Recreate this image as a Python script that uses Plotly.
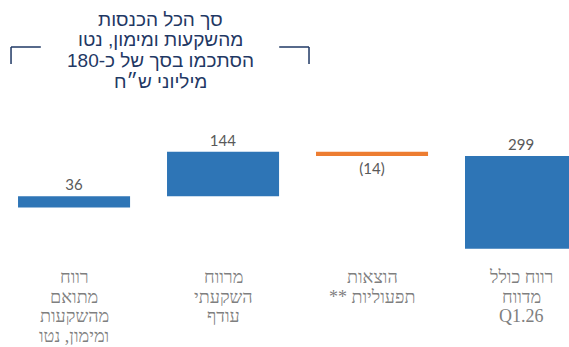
import plotly.graph_objects as go

categories = [["רווח", "מתואם", "מהשקעות", "ומימון, נטו"],
              ["מרווח", "השקעתי", "עודף"],
              ["הוצאות", "** תפעוליות"],
              ["רווח כולל", "מדווח", "Q1.26"]]
values = [36, 144, -14, 299]
value_labels = ["36", "144", "(14)", "299"]
start_level = 133          # hidden starting level of the bridge
is_total = [False, False, False, True]
colors = ["#2E75B6", "#2E75B6", "#ED7D31", "#2E75B6"]
bracket_lines = ["סך הכל הכנסות", "מהשקעות ומימון, נטו", "הסתכמו בסך של כ-180", "מיליוני ש״ח"]

# layout geometry
H = 347
Y0, Y1 = -317, 802
def py(pix):
    """convert pixel row to y data value"""
    return Y1 - pix * (Y1 - Y0) / H

# compute bases for the bridge
bases = []
level = start_level
for v, tot in zip(values, is_total):
    if tot:
        bases.append(0)
        level = v
    else:
        bases.append(level)
        level += v

xs = list(range(len(values)))
fig = go.Figure()
fig.add_trace(go.Bar(
    x=xs, y=values, base=bases, width=0.752,
    marker=dict(color=colors, line=dict(width=0)),
    text=value_labels, textposition="outside",
    textfont=dict(family="Lato", size=15, color="#595959"),
    cliponaxis=False, hoverinfo="skip",
))

# category labels
for i, lines in enumerate(categories):
    for j, t in enumerate(lines):
        fig.add_annotation(x=i, y=py(277 + 19.5 * j), xref="x", yref="y", text=t,
                           showarrow=False, yanchor="middle", xanchor="center",
                           font=dict(family="Liberation Serif", size=18, color="#7F7F7F"))

# bracket over the first two bars
navy = "#1F3864"
xl, xr = 0 - 0.423, 1 + 0.577
ytop, ybot = py(47), py(64)
seg = 0.2
line = dict(color=navy, width=1.5)
fig.add_shape(type="line", x0=xl, x1=xl, y0=ybot, y1=ytop, xref="x", yref="y", line=line)
fig.add_shape(type="line", x0=xl, x1=xl + seg, y0=ytop, y1=ytop, xref="x", yref="y", line=line)
fig.add_shape(type="line", x0=xr, x1=xr, y0=ybot, y1=ytop, xref="x", yref="y", line=line)
fig.add_shape(type="line", x0=xr - seg, x1=xr, y0=ytop, y1=ytop, xref="x", yref="y", line=line)
for j, t in enumerate(bracket_lines):
    fig.add_annotation(x=(xl + xr) / 2, y=py(19 + 20.7 * j), xref="x", yref="y", text=t,
                       showarrow=False, yanchor="middle", xanchor="center",
                       font=dict(family="Liberation Sans", size=19, color=navy))

fig.update_layout(
    width=569, height=H,
    margin=dict(l=0, r=0, t=0, b=0),
    paper_bgcolor="white", plot_bgcolor="white",
    showlegend=False,
    xaxis=dict(range=[-0.497, 3.322], visible=False),
    yaxis=dict(range=[Y0, Y1], visible=False),
)
fig.write_html("out.html")
